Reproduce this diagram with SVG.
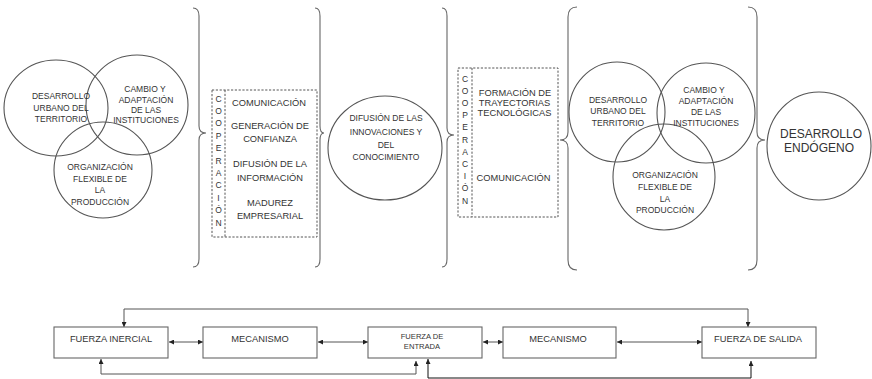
<svg xmlns="http://www.w3.org/2000/svg" width="872" height="379" viewBox="0 0 872 379">
<defs>
<style>
.c{fill:none;stroke:#555;stroke-width:1.1}
.b{fill:none;stroke:#666;stroke-width:1.1}
.d{fill:none;stroke:#555;stroke-width:1;stroke-dasharray:2.2 1.6}
.r{fill:#fff;stroke:#666;stroke-width:1.1}
.l{fill:none;stroke:#555;stroke-width:1}
.t{font-family:"Liberation Sans",Arial,sans-serif;fill:#333;text-anchor:middle}
.s8{font-size:8.5px}
.s9{font-size:9.3px}
.s12{font-size:12px}
.s7{font-size:7.6px}
</style>
<marker id="ah" viewBox="0 0 6 6" refX="6" refY="3" markerWidth="5" markerHeight="5" orient="auto-start-reverse" markerUnits="userSpaceOnUse">
<path d="M0,0 L6,3 L0,6 z" fill="#222"/>
</marker>
</defs>
<rect width="872" height="379" fill="#fff"/>

<g id="venn-left">
<ellipse class="c" cx="56" cy="108" rx="52" ry="48"/>
<ellipse class="c" cx="137" cy="105" rx="51" ry="50"/>
<ellipse class="c" cx="103" cy="170" rx="49" ry="48"/>
<text class="t s8" x="61" y="99">DESARROLLO</text>
<text class="t s8" x="61" y="110.5">URBANO DEL</text>
<text class="t s8" x="61" y="122">TERRITORIO</text>
<text class="t s8" x="145" y="92">CAMBIO  Y</text>
<text class="t s8" x="146" y="103">ADAPTACIÓN</text>
<text class="t s8" x="146" y="113">DE LAS</text>
<text class="t s8" x="146" y="123">INSTITUCIONES</text>
<text class="t s8" x="100" y="170">ORGANIZACIÓN</text>
<text class="t s8" x="100" y="181.5">FLEXIBLE DE</text>
<text class="t s8" x="100" y="193">LA</text>
<text class="t s8" x="100" y="205">PRODUCCIÓN</text>
</g>

<g id="braces">
<path class="b" d="M193,8 Q199,8 199,16 L199,126 Q199,133 206,133 Q199,133 199,140 L199,259 Q199,267 193,267"/>
<path class="b" d="M315,8 Q320,8 320,16 L320,126 Q320,133 324,133 Q320,133 320,140 L320,259 Q320,267 315,267"/>
<path class="b" d="M442,8 Q447,8 447,16 L447,128 Q447,135 454,135 Q447,135 447,142 L447,259 Q447,267 442,267"/>
<path class="b" d="M577,7 Q568,7 568,17 L568,132 Q568,140 560,140 Q568,140 568,148 L568,260 Q568,270 577,270"/>
<path class="b" d="M748,7 Q757,7 757,17 L757,132 Q757,140 765,140 Q757,140 757,148 L757,260 Q757,270 748,270"/>
</g>

<g id="cooperacion-1">
<rect class="d" x="212" y="90" width="105" height="147"/>
<line class="d" x1="225" y1="90" x2="225" y2="237"/>
<g class="t s8">
<text x="218.5" y="101.5">C</text>
<text x="218.5" y="113.9">O</text>
<text x="218.5" y="126.3">O</text>
<text x="218.5" y="138.7">P</text>
<text x="218.5" y="151.1">E</text>
<text x="218.5" y="163.5">R</text>
<text x="218.5" y="175.9">A</text>
<text x="218.5" y="188.3">C</text>
<text x="218.5" y="200.7">I</text>
<text x="218.5" y="213.1">Ó</text>
<text x="218.5" y="225.5">N</text>
</g>
<text class="t s9" x="269" y="105.5">COMUNICACIÓN</text>
<text class="t s9" x="270" y="128.5">GENERACIÓN DE</text>
<text class="t s9" x="270" y="141.5">CONFIANZA</text>
<text class="t s9" x="270" y="166.5">DIFUSIÓN DE LA</text>
<text class="t s9" x="270" y="180.5">INFORMACIÓN</text>
<text class="t s9" x="270" y="205.5">MADUREZ</text>
<text class="t s9" x="270" y="218.5">EMPRESARIAL</text>
</g>

<g id="difusion">
<ellipse class="c" cx="385" cy="148" rx="57" ry="52"/>
<text class="t s8" x="386" y="121">DIFUSIÓN DE LAS</text>
<text class="t s8" x="386" y="135">INNOVACIONES Y</text>
<text class="t s8" x="386" y="148">DEL</text>
<text class="t s8" x="386" y="160">CONOCIMIENTO</text>
</g>

<g id="cooperacion-2">
<rect class="d" x="458" y="68" width="100" height="149"/>
<line class="d" x1="472" y1="68" x2="472" y2="217"/>
<g class="t s8">
<text x="465" y="81.5">C</text>
<text x="465" y="93.7">O</text>
<text x="465" y="105.9">O</text>
<text x="465" y="118.1">P</text>
<text x="465" y="130.3">E</text>
<text x="465" y="142.5">R</text>
<text x="465" y="154.7">A</text>
<text x="465" y="166.9">C</text>
<text x="465" y="179.1">I</text>
<text x="465" y="191.3">Ó</text>
<text x="465" y="203.5">N</text>
</g>
<text class="t s9" x="515" y="95.5">FORMACIÓN DE</text>
<text class="t s9" x="514.5" y="105.5">TRAYECTORIAS</text>
<text class="t s9" x="514.5" y="115.5">TECNOLÓGICAS</text>
<text class="t s9" x="513.5" y="180.5">COMUNICACIÓN</text>
</g>

<g id="venn-right">
<ellipse class="c" cx="617" cy="112" rx="48" ry="50"/>
<ellipse class="c" cx="706" cy="113" rx="49" ry="50"/>
<ellipse class="c" cx="664" cy="177" rx="51" ry="53"/>
<text class="t s8" x="618" y="103">DESARROLLO</text>
<text class="t s8" x="618" y="114">URBANO DEL</text>
<text class="t s8" x="618" y="125.5">TERRITORIO</text>
<text class="t s8" x="704" y="93">CAMBIO  Y</text>
<text class="t s8" x="706" y="104">ADAPTACIÓN</text>
<text class="t s8" x="706" y="115">DE LAS</text>
<text class="t s8" x="706" y="125.5">INSTITUCIONES</text>
<text class="t s8" x="665" y="178">ORGANIZACIÓN</text>
<text class="t s8" x="665" y="190">FLEXIBLE DE</text>
<text class="t s8" x="665" y="201.5">LA</text>
<text class="t s8" x="665" y="213">PRODUCCIÓN</text>
</g>

<g id="desarrollo-endogeno">
<ellipse class="c" cx="819" cy="146" rx="52" ry="54"/>
<text class="t s12" x="821" y="137.5">DESARROLLO</text>
<text class="t s12" x="819" y="151.5">ENDÓGENO</text>
</g>

<g id="connectors">
<line class="l" x1="169" y1="342" x2="203" y2="342" marker-start="url(#ah)" marker-end="url(#ah)"/>
<line class="l" x1="318" y1="342" x2="368" y2="342" marker-start="url(#ah)" marker-end="url(#ah)"/>
<line class="l" x1="483" y1="342" x2="503" y2="342" marker-start="url(#ah)" marker-end="url(#ah)"/>
<line class="l" x1="617" y1="342" x2="702" y2="342" marker-start="url(#ah)" marker-end="url(#ah)"/>
<polyline class="l" points="124,327 124,309 748,309 748,327" marker-start="url(#ah)" marker-end="url(#ah)"/>
<polyline class="l" points="101,359 101,374 416,374 416,361" marker-start="url(#ah)" marker-end="url(#ah)"/>
<polyline class="l" style="stroke:#111" points="428,359 428,378 751,378 751,361" marker-start="url(#ah)" marker-end="url(#ah)"/>
</g>

<g id="fuerza-inercial">
<rect class="r" x="54" y="327" width="114" height="31"/>
<text class="t s9" x="111" y="341.5">FUERZA INERCIAL</text>
</g>
<g id="mecanismo-1">
<rect class="r" x="203" y="327" width="114" height="31"/>
<text class="t s9" x="260" y="341.5">MECANISMO</text>
</g>
<g id="fuerza-entrada">
<rect class="r" x="368" y="327" width="114" height="31"/>
<text class="t s7" x="422" y="338.5">FUERZA DE</text>
<text class="t s7" x="422" y="348.5">ENTRADA</text>
</g>
<g id="mecanismo-2">
<rect class="r" x="503" y="327" width="113" height="31"/>
<text class="t s9" x="558" y="341.5">MECANISMO</text>
</g>
<g id="fuerza-salida">
<rect class="r" x="702" y="327" width="114" height="31"/>
<text class="t s9" x="758" y="341.5">FUERZA DE SALIDA</text>
</g>
</svg>
